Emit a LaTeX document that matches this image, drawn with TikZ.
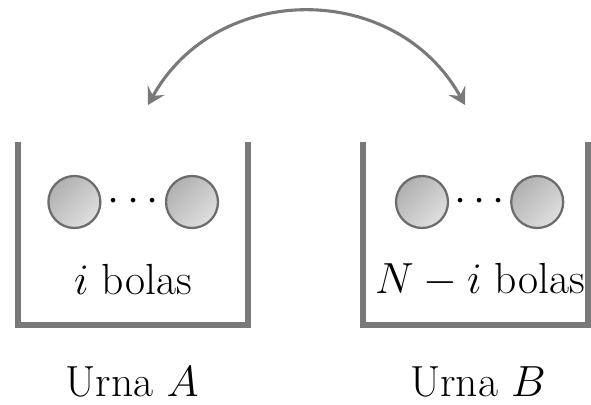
\RequirePackage{fix-cm}
\documentclass[tikz,border=0pt]{standalone}
\usetikzlibrary{arrows.meta}

\tikzset{
  urnwall/.style={draw=gray!95!black, line width=0.15cm},
  bola/.style={circle, minimum size=1.3cm, inner sep=0pt, draw=gray!85!black, line width=1.6pt,
    top color=gray!62, bottom color=gray!25, shading angle=45},
  swap/.style={draw=gray!95!black, line width=2.2pt, {Stealth[length=0.42cm, width=0.48cm, inset=0.16cm]}-{Stealth[length=0.42cm, width=0.48cm, inset=0.16cm]}},
  txt/.style={font=\fontsize{31}{37}\selectfont, inner sep=0pt}
}

\begin{document}
\begin{tikzpicture}[x=1cm,y=1cm]
\useasboundingbox (0,0) rectangle (14.775,10.1);

% urns
\draw[urnwall] (0.45,6.55) -- (0.45,1.975) -- (6.2,1.975) -- (6.2,6.55);
\draw[urnwall] (9.075,6.55) -- (9.075,1.975) -- (14.7,1.975) -- (14.7,6.55);

% urn A
\node[bola] (a1) at (1.86,5.05) {};
\node[bola] (a2) at (4.8,5.05) {};
\node[txt] (adots) at (3.33,5.05) {$\cdots$};
\node[txt] (atxt) at (3.325,3.1) {$i$ bolas};
\node[txt] (alabel) at (3.3,0.55) {Urna $A$};

% urn B
\node[bola] (b1) at (10.55,5.05) {};
\node[bola] (b2) at (13.43,5.05) {};
\node[txt] (bdots) at (11.99,5.05) {$\cdots$};
\node[txt] (btxt) at (12.0,3.1) {$N-i$ bolas};
\node[txt] (blabel) at (11.95,0.55) {Urna $B$};

% exchange
\coordinate (arrA) at (3.7,7.475);
\coordinate (arrB) at (11.625,7.475);
\draw[swap] (arrA) to[out=61, in=119, looseness=1.15] (arrB);
\end{tikzpicture}
\end{document}
